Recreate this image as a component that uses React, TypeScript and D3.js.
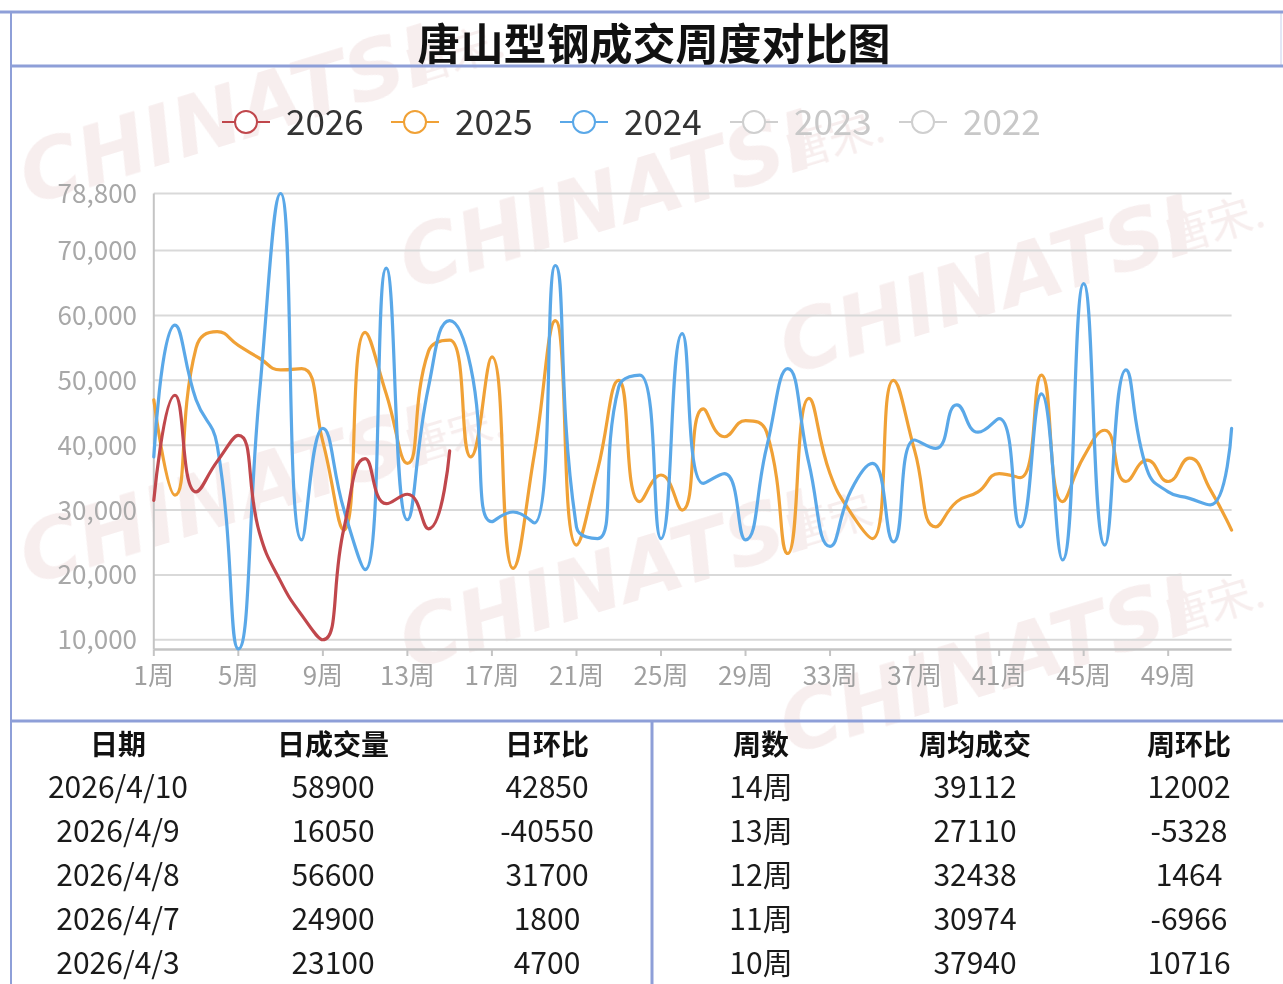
import React from 'react';
import * as d3 from 'd3';

// ---------------- data ----------------
const weekLabels: string[] = d3.range(1, 53).map((w) => `${w}周`);
const legendYears = ['2026', '2025', '2024', '2023', '2022'];

const s2026 = [31500, 47700, 32800, 37500, 41500, 26500, 19000, 13800, 10000, 27224, 37940, 30974, 32438, 27110, 39112];
const s2025 = [47000, 32300, 55000, 57500, 55400, 53400, 51600, 51800, 40500, 26900, 57400, 47900, 37200, 54500, 56200, 38200, 53600, 21000, 38500, 59200, 24600, 36200, 50000, 31300, 35400, 30000, 45600, 41300, 43800, 42000, 23300, 47200, 35600, 29500, 25600, 50000, 39200, 27400, 31300, 32800, 35600, 35000, 50800, 31300, 38200, 42300, 34400, 37700, 34400, 38000, 33100, 26900];
const s2024 = [38200, 58500, 47000, 40000, 8600, 48000, 78800, 25400, 42600, 30000, 20800, 67300, 28500, 49000, 59200, 52000, 28200, 29700, 28000, 67700, 27400, 25600, 49000, 50800, 25600, 57200, 34100, 35600, 25400, 39700, 51800, 37200, 24400, 33100, 37200, 25100, 40800, 39500, 46200, 42000, 44100, 27400, 47900, 22300, 64900, 24600, 51600, 36200, 32800, 31800, 30800, 42600];

const yTicks = [10000, 20000, 30000, 40000, 50000, 60000, 70000, 78800];
const yMin = 8500;
const yMax = 78800;

const dailyHeaders = ['日期', '日成交量', '日环比'];
const dailyDates = ['2026/4/10', '2026/4/9', '2026/4/8', '2026/4/7', '2026/4/3'];
const dailyVolume = [58900, 16050, 56600, 24900, 23100];
const dailyChange = [42850, -40550, 31700, 1800, 4700];

const weeklyHeaders = ['周数', '周均成交', '周环比'];
const weeklyNames = ['14周', '13周', '12周', '11周', '10周'];
const weeklyAvg = [39112, 27110, 32438, 30974, 37940];
const weeklyChange = [12002, -5328, 1464, -6966, 10716];

// ---------------- styles ----------------
const W = 1283;
const H = 984;
const seriesColors: Record<string, string> = { '2026': '#c0474c', '2025': '#f0a136', '2024': '#5aa8e8' };
const inactive = '#cfcfcf';
const frame = '#8e9fd8';
const cjk = '"Noto Sans CJK SC", "Noto Sans", sans-serif';

// d3 curve factory reproducing the clamped bezier smoothing of the source chart
class SmoothClamped {
  _context: any;
  _xs: number[] = [];
  _ys: number[] = [];
  _s = 0.5;
  constructor(context: any) {
    this._context = context;
  }
  areaStart() {}
  areaEnd() {}
  lineStart() {
    this._xs = [];
    this._ys = [];
  }
  point(x: number, y: number) {
    this._xs.push(+x);
    this._ys.push(+y);
  }
  lineEnd() {
    const xs = this._xs;
    const ys = this._ys;
    const n = xs.length;
    const ctx = this._context;
    const s = this._s;
    if (!n) return;
    ctx.moveTo(xs[0], ys[0]);
    let cpx0 = xs[0];
    let cpy0 = ys[0];
    for (let k = 1; k < n; k++) {
      const px = xs[k];
      const py = ys[k];
      let cpx1: number, cpy1: number, ncx: number, ncy: number;
      if (k === n - 1) {
        cpx1 = px;
        cpy1 = py;
        ncx = px;
        ncy = py;
      } else {
        const prevX = xs[k - 1];
        const prevY = ys[k - 1];
        const nextX = xs[k + 1];
        const nextY = ys[k + 1];
        let vx = nextX - prevX;
        let vy = nextY - prevY;
        const lenPrev = Math.hypot(px - prevX, py - prevY) || 1e-6;
        const lenNext = Math.hypot(nextX - px, nextY - py) || 1e-6;
        const ratio = lenNext / (lenNext + lenPrev);
        ncx = px + vx * s * ratio;
        ncy = py + vy * s * ratio;
        ncx = Math.min(ncx, Math.max(nextX, px));
        ncy = Math.min(ncy, Math.max(nextY, py));
        ncx = Math.max(ncx, Math.min(nextX, px));
        ncy = Math.max(ncy, Math.min(nextY, py));
        vx = ncx - px;
        vy = ncy - py;
        cpx1 = px - (vx * lenPrev) / lenNext;
        cpy1 = py - (vy * lenPrev) / lenNext;
        cpx1 = Math.min(cpx1, Math.max(prevX, px));
        cpy1 = Math.min(cpy1, Math.max(prevY, py));
        cpx1 = Math.max(cpx1, Math.min(prevX, px));
        cpy1 = Math.max(cpy1, Math.min(prevY, py));
        vx = px - cpx1;
        vy = py - cpy1;
        ncx = px + (vx * lenNext) / lenPrev;
        ncy = py + (vy * lenNext) / lenPrev;
      }
      ctx.bezierCurveTo(cpx0, cpy0, cpx1, cpy1, px, py);
      cpx0 = ncx;
      cpy0 = ncy;
    }
  }
}
const curveSmoothClamped = (context: any) => new SmoothClamped(context) as any;

export default function App() {
  const x = d3.scalePoint<string>().domain(weekLabels).range([153.8, 1231.6]);
  const y = d3.scaleLinear().domain([yMin, yMax]).range([649.5, 193.5]);
  const line = d3
    .line<number>()
    .x((_, i) => x(weekLabels[i]) as number)
    .y((d) => y(d))
    .curve(curveSmoothClamped);

  const series = [
    { name: '2025', data: s2025 },
    { name: '2024', data: s2024 },
    { name: '2026', data: s2026 },
  ];

  const fmt = d3.format(',');
  const xTickLabels = weekLabels.filter((_, i) => i % 4 === 0);

  const legendX = [222, 391, 560, 730, 899];
  const colX = [118, 333, 547, 761, 975, 1189];
  const rowY = [785, 829, 873, 917, 961];

  const watermarks: [number, number][] = [];
  for (let r = 0; r < 2; r++) {
    for (let i = 0; i < 3; i++) {
      watermarks.push([30 + 380 * i, 205 + 85 * i + 380 * r]);
    }
  }

  return (
    <svg
      width={W}
      height={H}
      viewBox={`0 0 ${W} ${H}`}
      style={{ position: 'absolute', left: 0, top: 0, display: 'block', background: '#fff' }}
    >
      <rect x={0} y={0} width={W} height={H} fill="#fff" />

      {/* watermarks */}
      <g opacity={0.5}>
        {watermarks.map(([wx, wy], k) => (
          <g key={k} transform={`translate(${wx},${wy}) rotate(-17)`}>
            <text
              x={0}
              y={0}
              fontFamily='"DejaVu Sans", sans-serif'
              fontWeight={700}
              fontStyle="italic"
              fontSize={82}
              fill="#efdcdc"
            >
              CHINATSI
            </text>
            <text x={400} y={-4} fontFamily={cjk} fontSize={44} fill="#efdcdc">
              唐宋.
            </text>
          </g>
        ))}
      </g>

      {/* frame */}
      <line x1={0} x2={W} y1={12} y2={12} stroke={frame} strokeWidth={3} />
      <line x1={11} x2={W} y1={66} y2={66} stroke={frame} strokeWidth={3} />
      <line x1={11} x2={11} y1={12} y2={H} stroke={frame} strokeWidth={2} />
      <line x1={1281} x2={1281} y1={12} y2={66} stroke={frame} strokeWidth={1} opacity={0.5} />
      <line x1={11} x2={W} y1={721} y2={721} stroke={frame} strokeWidth={3} />
      <line x1={652} x2={652} y1={721} y2={H} stroke={frame} strokeWidth={3} />

      {/* title */}
      <text
        x={654}
        y={41}
        textAnchor="middle"
        dominantBaseline="central"
        fontFamily={cjk}
        fontWeight={700}
        fontSize={43}
        fill="#111"
      >
        唐山型钢成交周度对比图
      </text>

      {/* legend */}
      {legendYears.map((name, i) => {
        const lx = legendX[i];
        const c = seriesColors[name] || inactive;
        const active = !!seriesColors[name];
        return (
          <g key={name}>
            <line x1={lx} x2={lx + 48} y1={122} y2={122} stroke={c} strokeWidth={2} />
            <circle cx={lx + 24} cy={122} r={11} fill="#fff" stroke={c} strokeWidth={2} />
            <text
              x={lx + 64}
              y={119}
              dominantBaseline="central"
              fontFamily={cjk}
              fontSize={35}
              fill={active ? '#333' : '#c8c8c8'}
            >
              {name}
            </text>
          </g>
        );
      })}

      {/* grid */}
      {yTicks.map((t) => (
        <g key={t}>
          <line x1={153.8} x2={1231.6} y1={y(t)} y2={y(t)} stroke="#d9d9d9" strokeWidth={2} />
          <text
            x={137}
            y={y(t) - 2}
            textAnchor="end"
            dominantBaseline="central"
            fontFamily={cjk}
            fontSize={26}
            fill="#a8a8a8"
          >
            {fmt(t)}
          </text>
        </g>
      ))}
      {/* axes */}
      <line x1={153.8} x2={1231.6} y1={649.5} y2={649.5} stroke="#c4c4c4" strokeWidth={2.5} />
      <line x1={153.8} x2={153.8} y1={193.5} y2={649.5} stroke="#c4c4c4" strokeWidth={2} />
      {xTickLabels.map((lab) => (
        <g key={lab}>
          <line x1={x(lab)} x2={x(lab)} y1={649.5} y2={656} stroke="#c4c4c4" strokeWidth={2} />
          <text
            x={x(lab)}
            y={673}
            textAnchor="middle"
            dominantBaseline="central"
            fontFamily={cjk}
            fontSize={26}
            fill="#a0a0a0"
          >
            {lab}
          </text>
        </g>
      ))}

      {/* series */}
      {series.map((s) => (
        <path
          key={s.name}
          d={line(s.data) || ''}
          fill="none"
          stroke={seriesColors[s.name]}
          strokeWidth={3.2}
          strokeLinejoin="round"
          strokeLinecap="round"
        />
      ))}

      {/* tables */}
      {dailyHeaders.concat(weeklyHeaders).map((h, i) => (
        <text
          key={h}
          x={colX[i]}
          y={743}
          textAnchor="middle"
          dominantBaseline="central"
          fontFamily={cjk}
          fontWeight={700}
          fontSize={28}
          fill="#111"
        >
          {h}
        </text>
      ))}
      {rowY.map((ry, r) => {
        const cells = [
          dailyDates[r],
          String(dailyVolume[r]),
          String(dailyChange[r]),
          weeklyNames[r],
          String(weeklyAvg[r]),
          String(weeklyChange[r]),
        ];
        return cells.map((c, i) => (
          <text
            key={`${r}-${i}`}
            x={colX[i]}
            y={ry}
            textAnchor="middle"
            dominantBaseline="central"
            fontFamily={cjk}
            fontSize={30}
            fill="#1a1a1a"
          >
            {c}
          </text>
        ));
      })}
    </svg>
  );
}
